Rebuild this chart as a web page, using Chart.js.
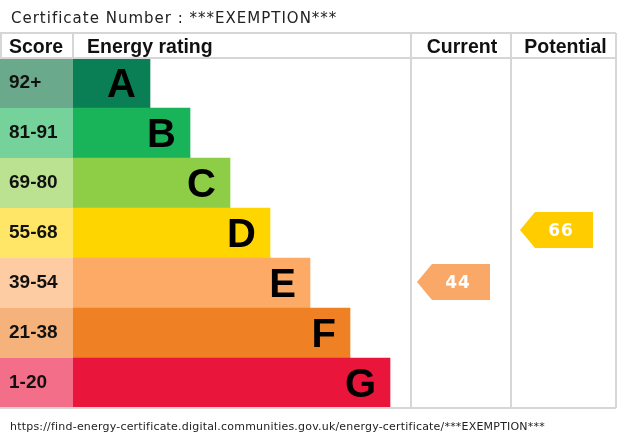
<!DOCTYPE html>
<html>
<head>
<meta charset="utf-8">
<script src="https://cdn.jsdelivr.net/npm/chart.js@4/dist/chart.umd.min.js"></script>
<style>
  body { margin: 0; background: #fff; }
  canvas { display: block; }
</style>
</head>
<body>
<canvas id="epcChart" width="620" height="440"></canvas>
<script>
const bands = ['A', 'B', 'C', 'D', 'E', 'F', 'G'];
const scoreRanges = ['92+', '81-91', '69-80', '55-68', '39-54', '21-38', '1-20'];
const bandMinScore = [92, 81, 69, 55, 39, 21, 1];
const bandLength = [2, 3, 4, 5, 6, 7, 8];
const currentScore = 44;
const potentialScore = 66;

const bandColours = ['#0a7f55', '#19b459', '#8dce46', '#ffd500', '#fcaa65', '#ef8023', '#e9153b'];
const scoreColours = ['#6aa98b', '#75d29b', '#bbe290', '#ffe666', '#fdcca3', '#f5b37b', '#f26e89'];
const arrowColours = ['#0a7f55', '#19b459', '#8dce46', '#ffcc00', '#f9a867', '#ef8023', '#e9153b'];
const lineColour = '#d6d6d6';
const sansBold = '"Liberation Sans", Arial, Helvetica, sans-serif';

function bandFor(score) {
    for (let i = 0; i < bandMinScore.length; i++) {
        if (score >= bandMinScore[i]) return i;
    }
    return bandMinScore.length - 1;
}

function drawArrow(ctx, tipX, cy, score) {
    const idx = bandFor(score);
    const h = 36, point = 15, w = 73;
    ctx.save();
    ctx.fillStyle = arrowColours[idx];
    ctx.beginPath();
    ctx.moveTo(tipX, cy);
    ctx.lineTo(tipX + point, cy - h / 2);
    ctx.lineTo(tipX + w, cy - h / 2);
    ctx.lineTo(tipX + w, cy + h / 2);
    ctx.lineTo(tipX + point, cy + h / 2);
    ctx.closePath();
    ctx.fill();
    ctx.fillStyle = '#fff';
    ctx.font = 'bold 17px "DejaVu Sans"';
    ctx.letterSpacing = '1px';
    ctx.textAlign = 'center';
    ctx.textBaseline = 'alphabetic';
    ctx.fillText(String(score), tipX + 41, cy + 6);
    ctx.restore();
}

const epcDecor = {
    id: 'epcDecor',
    afterDatasetsDraw(chart) {
        const ctx = chart.ctx;
        const yScale = chart.scales.y;
        const area = chart.chartArea;
        const meta = chart.getDatasetMeta(0);
        const scoreRight = 73;
        const currentLeft = 411, potentialLeft = 511;

        ctx.save();
        // score column
        bands.forEach((b, i) => {
            const cy = yScale.getPixelForValue(i);
            ctx.fillStyle = scoreColours[i];
            ctx.fillRect(0, cy - 25, scoreRight, 50);
            ctx.fillStyle = '#111';
            ctx.font = 'bold 19px ' + sansBold;
            ctx.textAlign = 'left';
            ctx.textBaseline = 'alphabetic';
            ctx.fillText(scoreRanges[i], 9, cy + 5);
        });

        // band letters at the end of each bar
        meta.data.forEach((bar, i) => {
            ctx.fillStyle = '#000';
            ctx.font = 'bold 40px ' + sansBold;
            ctx.textAlign = 'right';
            ctx.textBaseline = 'alphabetic';
            ctx.fillText(bands[i], bar.x - 14, bar.y + 14);
        });

        // table lines
        ctx.strokeStyle = lineColour;
        ctx.lineWidth = 2;
        ctx.beginPath();
        ctx.moveTo(0, 33); ctx.lineTo(area.right, 33);
        ctx.moveTo(0, 58); ctx.lineTo(area.right, 58);
        ctx.moveTo(0, area.bottom); ctx.lineTo(area.right, area.bottom);
        ctx.moveTo(1, 33); ctx.lineTo(1, 58);
        ctx.moveTo(scoreRight, 33); ctx.lineTo(scoreRight, 58);
        ctx.moveTo(currentLeft, 33); ctx.lineTo(currentLeft, area.bottom);
        ctx.moveTo(potentialLeft, 33); ctx.lineTo(potentialLeft, area.bottom);
        ctx.moveTo(area.right, 33); ctx.lineTo(area.right, area.bottom);
        ctx.stroke();

        // header
        ctx.fillStyle = '#111';
        ctx.font = 'bold 19.5px ' + sansBold;
        ctx.textBaseline = 'alphabetic';
        ctx.textAlign = 'left';
        ctx.fillText('Score', 9, 53);
        ctx.fillText('Energy rating', 87, 53);
        ctx.textAlign = 'center';
        ctx.fillText('Current', (currentLeft + potentialLeft) / 2 + 1, 53);
        ctx.fillText('Potential', (potentialLeft + area.right) / 2 + 2, 53);

        // rating arrows
        drawArrow(ctx, currentLeft + 6, yScale.getPixelForValue(bandFor(currentScore)) - 1, currentScore);
        drawArrow(ctx, potentialLeft + 9, yScale.getPixelForValue(bandFor(potentialScore)) - 3, potentialScore);

        // title and footer
        ctx.fillStyle = '#222';
        ctx.textAlign = 'left';
        ctx.font = '15px "DejaVu Sans"';
        ctx.letterSpacing = '1px';
        ctx.fillText('Certificate Number : ***EXEMPTION***', 11, 23);
        ctx.font = '11px "DejaVu Sans"';
        ctx.letterSpacing = '0.2px';
        ctx.fillText('https://find-energy-certificate.digital.communities.gov.uk/energy-certificate/***EXEMPTION***', 10, 430);
        ctx.restore();
    }
};

function drawChart() {
    new Chart(document.getElementById('epcChart'), {
        type: 'bar',
        data: {
            labels: bands,
            datasets: [{
                data: bandLength,
                backgroundColor: bandColours,
                borderWidth: 0,
                categoryPercentage: 1,
                barPercentage: 1
            }]
        },
        options: {
            indexAxis: 'y',
            responsive: false,
            animation: false,
            layout: {
                padding: { left: 70, right: 4, top: 58, bottom: 32 }
            },
            scales: {
                x: { display: false, min: 0, max: 13.65 },
                y: { display: false }
            },
            plugins: {
                legend: { display: false },
                tooltip: { enabled: false }
            }
        },
        plugins: [epcDecor]
    });
}

Promise.all([
    document.fonts.load('bold 18px "Liberation Sans"'),
    document.fonts.load('15px "DejaVu Sans"'),
    document.fonts.load('bold 17px "DejaVu Sans"')
]).then(drawChart, drawChart);
</script>
</body>
</html>
